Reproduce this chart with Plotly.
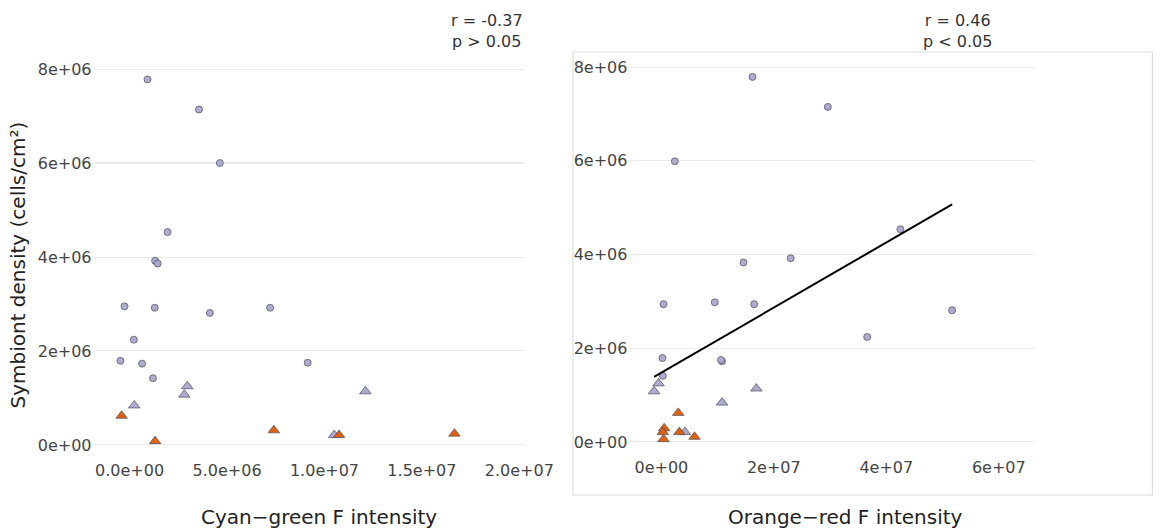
import numpy as np
import plotly.graph_objects as go

# ---------------- data (values in cells/cm2 and intensity units) ----------------
# Left panel: Cyan-green F intensity
cg_circle_x = [0.92e6, 3.56e6, 4.63e6, 1.95e6, 1.31e6, 1.44e6, -0.26e6, 1.29e6, 4.12e6, 7.21e6,
               0.22e6, -0.47e6, 0.64e6, 9.14e6, 1.20e6]
cg_circle_y = [7.78e6, 7.14e6, 6.00e6, 4.53e6, 3.92e6, 3.86e6, 2.95e6, 2.92e6, 2.81e6, 2.92e6,
               2.24e6, 1.79e6, 1.73e6, 1.75e6, 1.42e6]
cg_tri_x = [2.96e6, 2.81e6, 0.24e6, 12.1e6, 10.5e6]
cg_tri_y = [1.25e6, 1.07e6, 0.84e6, 1.14e6, 0.21e6]
cg_orange_x = [-0.41e6, 1.31e6, 7.40e6, 10.75e6, 16.67e6]
cg_orange_y = [0.62e6, 0.08e6, 0.31e6, 0.21e6, 0.24e6]

# Right panel: Orange-red F intensity
or_circle_x = [16.2e6, 29.6e6, 2.4e6, 42.5e6, 14.6e6, 23.0e6, 0.39e6, 9.5e6, 16.5e6, 51.7e6,
               36.6e6, 0.19e6, 10.8e6, 10.6e6, 0.26e6]
or_circle_y = [7.79e6, 7.15e6, 5.99e6, 4.54e6, 3.83e6, 3.92e6, 2.94e6, 2.98e6, 2.94e6, 2.81e6,
               2.24e6, 1.79e6, 1.72e6, 1.75e6, 1.41e6]
or_tri_x = [-0.5e6, -1.3e6, 10.8e6, 16.9e6, 4.2e6]
or_tri_y = [1.25e6, 1.08e6, 0.84e6, 1.14e6, 0.21e6]
or_orange_x = [3.0e6, 0.5e6, 0.26e6, 0.39e6, 3.2e6, 5.9e6]
or_orange_y = [0.62e6, 0.29e6, 0.21e6, 0.06e6, 0.21e6, 0.11e6]

y_tickvals = [0, 2e6, 4e6, 6e6, 8e6]
y_ticktext = ["0e+00", "2e+06", "4e+06", "6e+06", "8e+06"]
x1_tickvals = [0, 5e6, 1e7, 1.5e7, 2e7]
x1_ticktext = ["0.0e+00", "5.0e+06", "1.0e+07", "1.5e+07", "2.0e+07"]
x2_tickvals = [0, 2e7, 4e7, 6e7]
x2_ticktext = ["0e+00", "2e+07", "4e+07", "6e+07"]

stat_left = "r = -0.37<br>p > 0.05"
stat_right = "r = 0.46<br>p < 0.05"

# ---------------- styles ----------------
LAV = "#aeabd0"
ORG = "#e0620f"
EDGE = "#4a4a5a"
FONT = "DejaVu Sans"

fig = go.Figure()

def add_group(x, y, xa, ya, symbol, color, size):
    fig.add_trace(go.Scatter(
        x=x, y=y, xaxis=xa, yaxis=ya, mode="markers",
        marker=dict(symbol=symbol, color=color, size=size,
                    line=dict(color=EDGE, width=0.7)),
        showlegend=False, hoverinfo="x+y"))

add_group(cg_circle_x, cg_circle_y, "x", "y", "circle", LAV, 7)
add_group(cg_tri_x, cg_tri_y, "x", "y", "triangle-up", LAV, 10)
add_group(cg_orange_x, cg_orange_y, "x", "y", "triangle-up", ORG, 10)

add_group(or_circle_x, or_circle_y, "x2", "y2", "circle", LAV, 7)
add_group(or_tri_x, or_tri_y, "x2", "y2", "triangle-up", LAV, 10)
add_group(or_orange_x, or_orange_y, "x2", "y2", "triangle-up", ORG, 10)

# linear fit for right panel
all_x = np.array(or_circle_x + or_tri_x + or_orange_x)
all_y = np.array(or_circle_y + or_tri_y + or_orange_y)
slope, intercept = np.polyfit(all_x, all_y, 1)
fx = np.array([all_x.min(), all_x.max()])
fig.add_trace(go.Scatter(x=fx, y=slope * fx + intercept, xaxis="x2", yaxis="y2",
                         mode="lines", line=dict(color="black", width=2),
                         showlegend=False, hoverinfo="skip"))

tickfont = dict(family=FONT, size=16, color="#444444")
common_y = dict(tickvals=y_tickvals, ticktext=y_ticktext, showgrid=True,
                gridcolor="#ebebeb", gridwidth=1, zeroline=False, showline=False,
                ticks="", tickfont=tickfont, range=[-0.3e6, 8.3e6], ticklabelstandoff=2)

fig.update_layout(
    width=1171, height=530,
    margin=dict(l=0, r=0, t=0, b=0),
    paper_bgcolor="white", plot_bgcolor="white",
    xaxis=dict(domain=[97/1171, 538/1171], range=[-1.8e6, 20.25e6],
               tickvals=x1_tickvals, ticktext=x1_ticktext, showgrid=False,
               zeroline=False, showline=False, ticks="", tickfont=tickfont, anchor="y"),
    yaxis=dict(domain=[1 - 459/530, 1 - 55/530], anchor="x", **common_y),
    xaxis2=dict(domain=[647/1171, 1062/1171], range=[-5.5e6, 66.4e6],
                tickvals=x2_tickvals, ticktext=x2_ticktext, showgrid=False,
                zeroline=False, showline=False, ticks="", tickfont=tickfont, anchor="y2"),
    yaxis2=dict(domain=[1 - 456/530, 1 - 53/530], anchor="x2", **common_y),
    shapes=[
        # darker reference line at 6e6 on left panel
        dict(type="line", xref="x domain", yref="y", x0=0, x1=1, y0=6e6, y1=6e6,
             line=dict(color="#cbcbcb", width=1), layer="below"),
        # border around right panel
        dict(type="rect", xref="paper", yref="paper", x0=588/1171, x1=1.01,
             y0=1 - 495/530, y1=1 - 52/530, line=dict(color="#dddddd", width=1.2),
             layer="below"),
    ],
    annotations=[
        dict(text=stat_left, xref="paper", yref="paper", x=500/1171, y=1 - 31/530,
             showarrow=False, font=dict(family=FONT, size=16, color="#333333"),
             xanchor="center", yanchor="middle", align="center"),
        dict(text=stat_right, xref="paper", yref="paper", x=983/1171, y=1 - 31/530,
             showarrow=False, font=dict(family=FONT, size=16, color="#333333"),
             xanchor="center", yanchor="middle", align="center"),
        dict(text="Cyan\u2212green F intensity", xref="paper", yref="paper",
             x=327/1171, y=1 - 517/530, showarrow=False,
             font=dict(family=FONT, size=20, color="#222222"),
             xanchor="center", yanchor="middle"),
        dict(text="Orange\u2212red F intensity", xref="paper", yref="paper",
             x=868/1171, y=1 - 517/530, showarrow=False,
             font=dict(family=FONT, size=20, color="#222222"),
             xanchor="center", yanchor="middle"),
        dict(text="Symbiont density (cells/cm\u00b2)", xref="paper", yref="paper",
             x=18/1171, y=1 - 265/530, showarrow=False, textangle=-90,
             font=dict(family=FONT, size=20, color="#222222"),
             xanchor="center", yanchor="middle"),
    ],
)

fig.write_html("out.html")
